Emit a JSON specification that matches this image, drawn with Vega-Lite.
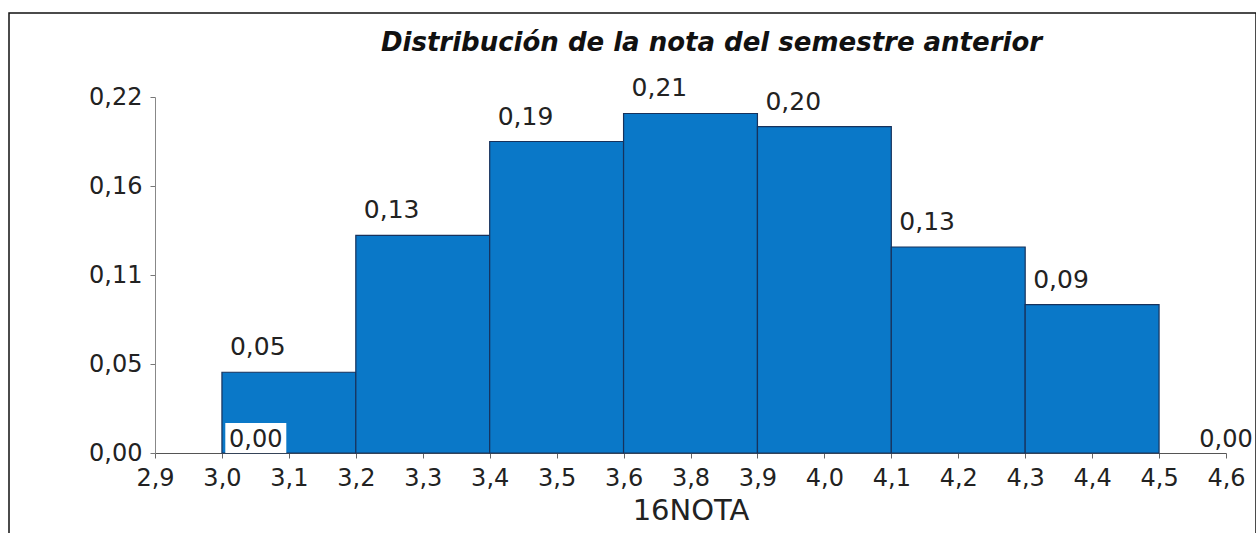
{
  "$schema": "https://vega.github.io/schema/vega-lite/v6.json",
  "width": 1247,
  "height": 525,
  "autosize": {"type": "none"},
  "padding": {"left": 9, "top": 13, "right": 0, "bottom": 0},
  "background": "white",
  "title": {
    "text": "Distribución de la nota del semestre anterior",
    "font": "DejaVu Sans",
    "fontSize": 26,
    "fontWeight": "bold",
    "fontStyle": "italic",
    "color": "#111111",
    "anchor": "middle",
    "frame": "group",
    "dx": 79,
    "offset": -64,
    "baseline": "alphabetic"
  },
  "config": {
    "locale": {"number": {"decimal": ",", "thousands": ".", "grouping": [3], "currency": ["", " €"]}},
    "view": {"stroke": "#111111", "strokeWidth": 1.5},
    "font": "DejaVu Sans"
  },
  "datasets": {
    "barras": [
      {"desde": 3.00625, "hasta": 3.21875, "densidad": 0.049},
      {"desde": 3.21875, "hasta": 3.43125, "densidad": 0.132},
      {"desde": 3.43125, "hasta": 3.64375, "densidad": 0.189},
      {"desde": 3.64375, "hasta": 3.85625, "densidad": 0.206},
      {"desde": 3.85625, "hasta": 4.06875, "densidad": 0.198},
      {"desde": 4.06875, "hasta": 4.28125, "densidad": 0.125},
      {"desde": 4.28125, "hasta": 4.49375, "densidad": 0.09}
    ],
    "ceros": [
      {"nota": 3.06, "densidad": 0},
      {"nota": 4.6, "densidad": 0}
    ]
  },
  "layer": [
    {
      "data": {"name": "barras"},
      "mark": {"type": "rect", "fill": "#0a78c8", "stroke": "#17325c", "strokeWidth": 1.2},
      "encoding": {
        "x": {
          "field": "desde",
          "type": "quantitative",
          "title": "16NOTA",
          "scale": {"domain": [2.9, 4.6], "range": [146, 1217], "nice": false, "zero": false},
          "axis": {
            "values": [2.9, 3.00625, 3.1125, 3.21875, 3.325, 3.43125, 3.5375, 3.64375, 3.75, 3.85625, 3.9625, 4.06875, 4.175, 4.28125, 4.3875, 4.49375, 4.6],
            "format": ".1f",
            "labelFontSize": 24,
            "labelColor": "#222222",
            "labelOverlap": false,
            "labelFlush": false,
            "tickSize": 5,
            "tickColor": "#666666",
            "domainColor": "#555555",
            "grid": false,
            "labelPadding": 8,
            "offset": -85,
            "titleFontSize": 29,
            "titleFontWeight": "normal",
            "titleColor": "#222222",
            "titlePadding": 6
          }
        },
        "x2": {"field": "hasta"},
        "y": {
          "field": "densidad",
          "type": "quantitative",
          "title": null,
          "scale": {"domain": [0, 0.216], "range": [440, 84], "nice": false},
          "axis": {
            "values": [0, 0.054, 0.108, 0.162, 0.216],
            "format": ".2f",
            "labelFontSize": 24,
            "labelColor": "#222222",
            "tickSize": 5,
            "tickColor": "#777777",
            "domainColor": "#888888",
            "grid": false,
            "labelPadding": 8,
            "offset": -146
          }
        },
        "y2": {"datum": 0}
      }
    },
    {
      "data": {"name": "barras"},
      "mark": {"type": "text", "align": "left", "baseline": "alphabetic", "dx": 8, "dy": -17, "fontSize": 25, "color": "#222222"},
      "encoding": {
        "x": {"field": "desde", "type": "quantitative"},
        "y": {"field": "densidad", "type": "quantitative"},
        "text": {"field": "densidad", "type": "quantitative", "format": ".2f"}
      }
    },
    {
      "data": {"name": "ceros"},
      "transform": [{"filter": "datum.nota < 4"}],
      "mark": {"type": "point", "shape": "M-1,-0.49L1,-0.49L1,0.49L-1,0.49Z", "size": 3721, "filled": true, "fill": "white", "opacity": 1, "strokeWidth": 0, "yOffset": -15},
      "encoding": {
        "x": {"field": "nota", "type": "quantitative"},
        "y": {"field": "densidad", "type": "quantitative"}
      }
    },
    {
      "data": {"name": "ceros"},
      "mark": {"type": "text", "align": "center", "baseline": "alphabetic", "dy": -6, "fontSize": 24, "color": "#222222"},
      "encoding": {
        "x": {"field": "nota", "type": "quantitative"},
        "y": {"field": "densidad", "type": "quantitative"},
        "text": {"field": "densidad", "type": "quantitative", "format": ".2f"}
      }
    }
  ]
}
